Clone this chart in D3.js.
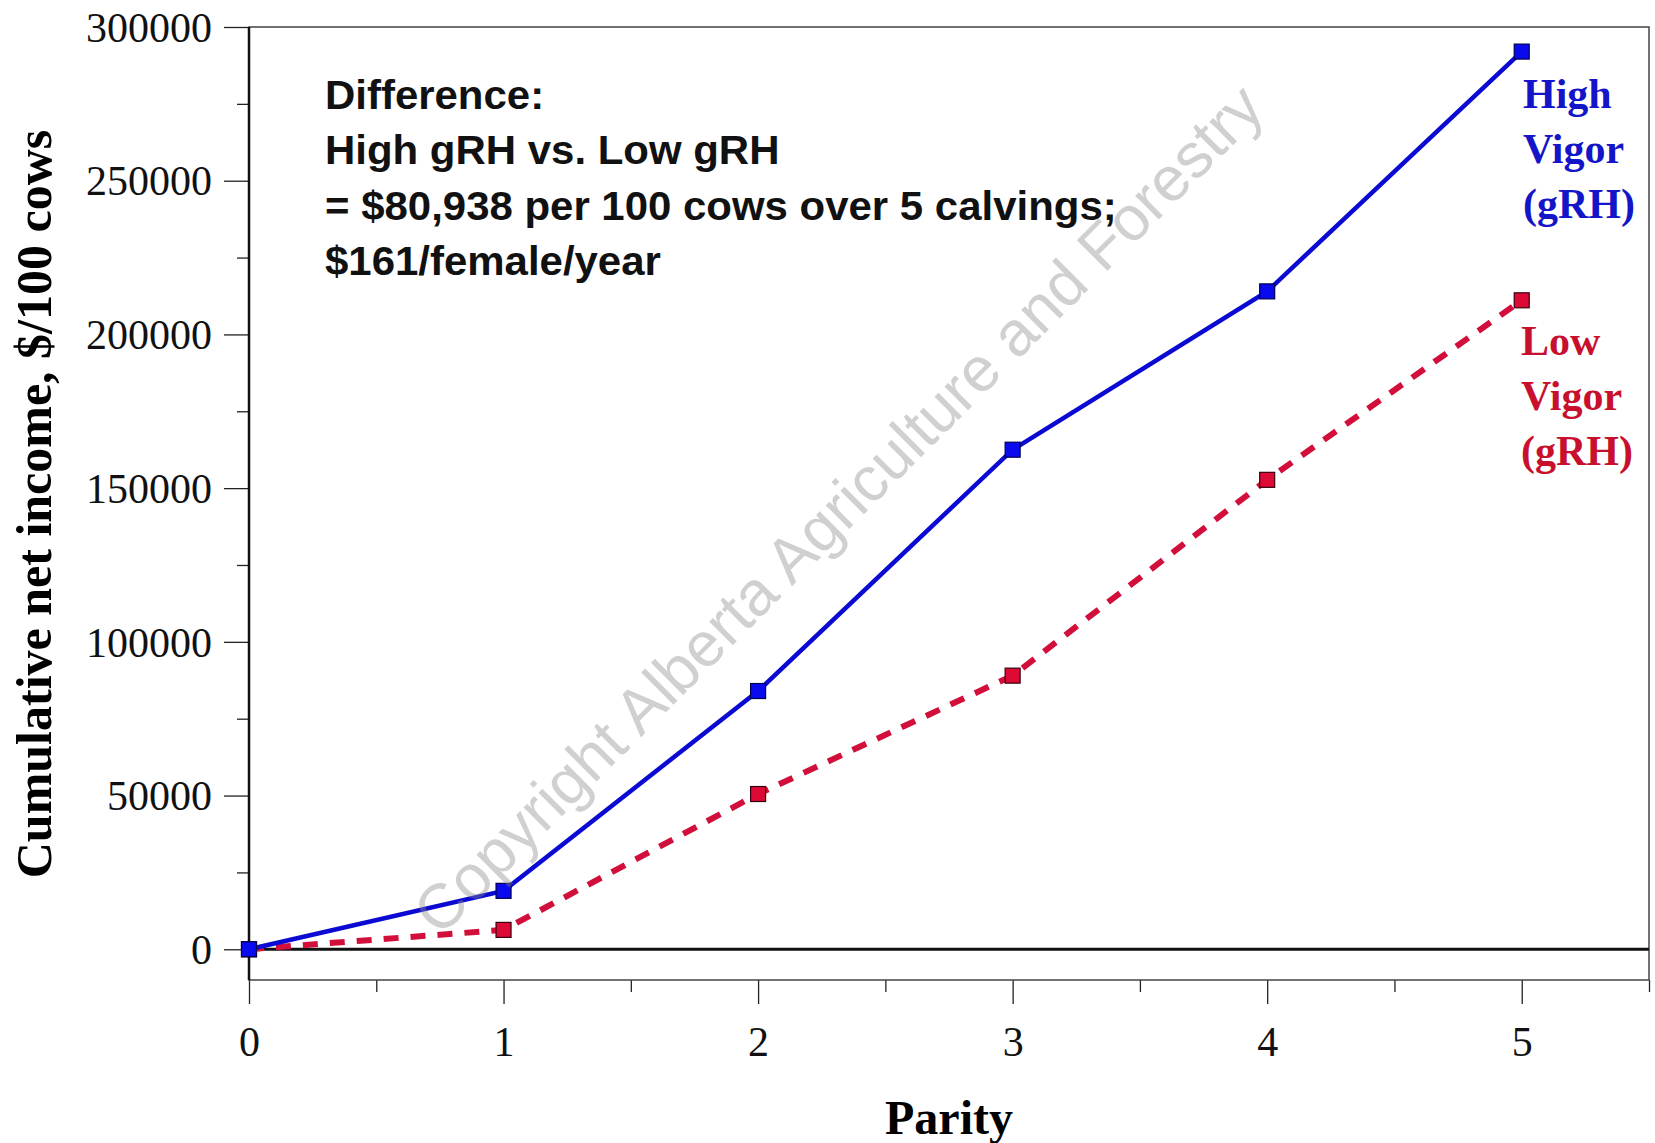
<!DOCTYPE html>
<html lang="en">
<head>
  <meta charset="UTF-8" />
  <title>Cumulative net income by parity</title>
  <script src="https://d3js.org/d3.v7.min.js"></script>
  <style>
    body { margin: 0; background: #fff; }
    svg { display: block; }
    .tick text { font-family: "Liberation Serif", "Times New Roman", serif; fill: #111; }
    .tick line { stroke: #222; stroke-width: 1.3px; }
    .domain { display: none; }
  </style>
</head>
<body>
<svg width="1655" height="1143"></svg>

<script>
// data
const parity = [0, 1, 2, 3, 4, 5];
const highVigor = [0, 19000, 84000, 162500, 214000, 292000];
const lowVigor = [0, 6300, 50500, 89000, 152700, 211100];

const yMajorTicks = [0, 50000, 100000, 150000, 200000, 250000, 300000];
const yMinorTicks = [25000, 75000, 125000, 175000, 225000, 275000];
const xMajorTicks = [0, 1, 2, 3, 4, 5];
const xMinorTicks = [0.5, 1.5, 2.5, 3.5, 4.5, 5.5];

const noteLines = [
  "Difference:",
  "High gRH vs. Low gRH",
  "= $80,938 per 100 cows over 5 calvings;",
  "$161/female/year"
];
const highLabel = ["High", "Vigor", "(gRH)"];
const lowLabel = ["Low", "Vigor", "(gRH)"];

const blue = "#0a0ad2", red = "#d20f3a";

const svg = d3.select("svg");
const plot = { left: 249, right: 1649, top: 27, bottom: 980 };

const x = d3.scaleLinear().domain([0, 5.5]).range([plot.left, plot.right]);
const y = d3.scaleLinear().domain([-10000, 300000]).range([plot.bottom, plot.top]);

// y axis ticks
svg.append("g")
  .attr("transform", `translate(${plot.left},0)`)
  .call(d3.axisLeft(y).tickValues(yMajorTicks).tickSize(25).tickPadding(12).tickFormat(d3.format("d")))
  .call(g => g.selectAll("text").attr("font-size", 42).attr("dy", "0.34em"));

svg.append("g")
  .attr("transform", `translate(${plot.left},0)`)
  .call(d3.axisLeft(y).tickValues(yMinorTicks).tickSize(12).tickFormat(""));

// x axis ticks
svg.append("g")
  .attr("transform", `translate(0,${plot.bottom})`)
  .call(d3.axisBottom(x).tickValues(xMajorTicks).tickSize(24).tickPadding(22).tickFormat(d3.format("d")))
  .call(g => g.selectAll("text").attr("font-size", 42));

svg.append("g")
  .attr("transform", `translate(0,${plot.bottom})`)
  .call(d3.axisBottom(x).tickValues(xMinorTicks).tickSize(12).tickFormat(""));

// frame
svg.append("rect")
  .attr("x", plot.left).attr("y", plot.top)
  .attr("width", plot.right - plot.left).attr("height", plot.bottom - plot.top)
  .attr("fill", "none").attr("stroke", "#444").attr("stroke-width", 1.5);

svg.append("line")
  .attr("x1", plot.left).attr("x2", plot.left).attr("y1", plot.top).attr("y2", plot.bottom)
  .attr("stroke", "#111").attr("stroke-width", 2.5);

// zero line
svg.append("line")
  .attr("x1", plot.left).attr("x2", plot.right).attr("y1", y(0)).attr("y2", y(0))
  .attr("stroke", "#111").attr("stroke-width", 3);

// series
const line = d3.line().x((d, i) => x(parity[i])).y(d => y(d));

svg.append("path")
  .datum(lowVigor)
  .attr("d", line)
  .attr("fill", "none").attr("stroke", red)
  .attr("stroke-width", 6).attr("stroke-dasharray", "15,12");

svg.append("path")
  .datum(highVigor)
  .attr("d", line)
  .attr("fill", "none").attr("stroke", blue).attr("stroke-width", 4.5);

const sq = 15;
svg.selectAll(".low-pt")
  .data(lowVigor).enter().append("rect")
  .attr("class", "low-pt")
  .attr("x", (d, i) => x(parity[i]) - sq / 2).attr("y", d => y(d) - sq / 2)
  .attr("width", sq).attr("height", sq)
  .attr("fill", "#dc0a34").attr("stroke", "#3a0010").attr("stroke-width", 1.2);

svg.selectAll(".high-pt")
  .data(highVigor).enter().append("rect")
  .attr("class", "high-pt")
  .attr("x", (d, i) => x(parity[i]) - sq / 2).attr("y", d => y(d) - sq / 2)
  .attr("width", sq).attr("height", sq)
  .attr("fill", "#0a0aee").attr("stroke", "#000050").attr("stroke-width", 1.2);

// series labels
function seriesLabel(lines, x0, y0, color) {
  svg.append("text")
    .attr("font-family", "'Liberation Serif', 'Times New Roman', serif")
    .attr("font-weight", "bold").attr("font-size", 42)
    .attr("fill", color)
    .selectAll("tspan").data(lines).enter().append("tspan")
    .attr("x", x0).attr("y", (d, i) => y0 + i * 55)
    .text(d => d);
}
seriesLabel(highLabel, 1523, 108, "#1414c8");
seriesLabel(lowLabel, 1521, 355, "#c8102e");

// difference note
const note = svg.append("g");
const noteText = note.append("text")
  .attr("font-family", "'Liberation Sans', Arial, sans-serif")
  .attr("font-weight", "bold").attr("font-size", 41)
  .attr("fill", "#111");
noteText.selectAll("tspan").data(noteLines).enter().append("tspan")
  .attr("x", 0).attr("y", (d, i) => i * 55.5)
  .text(d => d);
// the original face is narrower than Liberation Sans, squeeze to fit
const widest = d3.max(noteText.selectAll("tspan").nodes(), n => n.getComputedTextLength());
note.attr("transform", `translate(325,109) scale(${792 / widest},1)`);

// axis titles
svg.append("text")
  .attr("x", (plot.left + plot.right) / 2).attr("y", 1134)
  .attr("text-anchor", "middle")
  .attr("font-family", "'Liberation Serif', 'Times New Roman', serif")
  .attr("font-weight", "bold").attr("font-size", 48)
  .text("Parity");

svg.append("text")
  .attr("transform", `translate(51,504) rotate(-90)`)
  .attr("text-anchor", "middle")
  .attr("font-family", "'Liberation Serif', 'Times New Roman', serif")
  .attr("font-weight", "bold").attr("font-size", 50)
  .text("Cumulative net income, $/100 cows");

// watermark
svg.append("text")
  .attr("transform", "translate(838,509) rotate(-45)")
  .attr("text-anchor", "middle").attr("dy", "0.35em")
  .attr("font-family", "'Liberation Sans', Arial, sans-serif")
  .attr("font-size", 63)
  .attr("fill", "#8a8a8a").attr("fill-opacity", 0.4)
  .text("Copyright Alberta Agriculture and Forestry");
</script>
</body>
</html>
